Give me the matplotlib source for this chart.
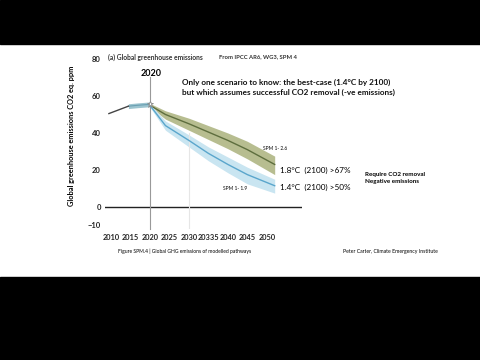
import matplotlib
matplotlib.use("Agg")
from matplotlib import pyplot as plt
from matplotlib.patches import Rectangle
import numpy as np

plt.rcParams['font.family'] = ['Lato', 'DejaVu Sans']

# historical emissions
hist_years = [2009.5, 2014.5]
hist_vals = [50.5, 54.5]
band_years = [2014.5, 2017, 2020]
band_vals = [54.5, 55.0, 55.5]

# pathways after 2020
path_years = [2020, 2024, 2030, 2035, 2040, 2045, 2052]
spm26_mid = [55, 50, 45, 40.5, 36, 31, 23]
spm26_lo = [54, 47.5, 41.5, 36.5, 31.5, 26, 17.5]
spm26_hi = [56, 52, 48, 44, 40, 35.5, 27.5]
spm19_mid = [55, 44, 36, 29, 23, 17.5, 11.5]
spm19_lo = [54, 41.5, 32.5, 25, 18.5, 12.5, 7.5]
spm19_hi = [56, 46.5, 39, 32.5, 27, 21.5, 15]

xticks = [2010, 2015, 2020, 2025, 2030, 2035, 2040, 2045, 2050]
xticklabels = ["2010", "2015", "2020", "2025", "2030", "20335", "2040", "2045", "2050"]
yticks = [80, 60, 40, 20, 0, -10]


def px(x, y):
    return x / 480, 1 - y / 360


fig = plt.figure(figsize=(4.8, 3.6), dpi=100)
fig.patch.set_facecolor("white")

# video letterbox bars
fig.add_artist(Rectangle((0, 1 - 44 / 360), 1, 44 / 360, transform=fig.transFigure,
                         color="black", zorder=0))
fig.add_artist(Rectangle((0, 0), 1, 1 - 277 / 360, transform=fig.transFigure,
                         color="black", zorder=0))

ax = fig.add_axes([105 / 480, 1 - 229.2 / 360, 197 / 480, 173.9 / 360])
ax.set_xlim(2008.5, 2059)
ax.set_ylim(-12, 82)
for s in ax.spines.values():
    s.set_visible(False)
ax.patch.set_alpha(0)

ax.axhline(0, color="#222222", lw=1.0)
ax.plot([2020, 2020], [-12, 70], color="#999999", lw=0.8, clip_on=False)
ax.plot([2030, 2030], [-12, 40], color="#e6e6e6", lw=0.8)

ax.fill_between(path_years, spm26_lo, spm26_hi, color="#b7bd90", lw=0)
ax.plot(path_years, spm26_mid, color="#5e6e3e", lw=1.0)
ax.fill_between(path_years, spm19_lo, spm19_hi, color="#c9e5f1", lw=0)
ax.plot(path_years, spm19_mid, color="#5aa6cc", lw=1.0)

ax.fill_between(band_years, np.array(band_vals) - 1.3, np.array(band_vals) + 1.3,
                color="#9cc4cf", lw=0)
ax.plot(band_years, band_vals, color="#6aa0b3", lw=0.8)
ax.plot(hist_years, hist_vals, color="#444444", lw=1.0)
ax.plot([2020], [55.5], marker="*", ms=5, mfc="white", mec="#888888", mew=0.6)

ax.set_xticks(xticks)
ax.set_xticklabels(xticklabels)
ax.set_yticks(yticks)
ax.tick_params(length=0, labelsize=5.3, pad=3)
for t in ax.get_xticklabels() + ax.get_yticklabels():
    t.set_fontweight("bold")
    t.set_color("#222222")
ax.tick_params(axis="y", labelsize=5.5)
ax.tick_params(axis="x", pad=3.5)

ax.set_ylabel("Global greenhouse emissions CO2 eq. ppm", fontsize=5.3,
              fontweight="bold")
ax.yaxis.set_label_coords(-0.152, 0.536)

fig.text(*px(108, 57), "(a) Global greenhouse emissions", fontsize=4.8,
         fontweight="bold", va="center", color="#333333")
fig.text(*px(219, 57), "From IPCC AR6, WG3, SPM 4", fontsize=4.2,
         fontweight="bold", va="center", color="#333333")
fig.text(*px(151, 73), "2020", fontsize=6.5, fontweight="bold", ha="center",
         va="center")
fig.text(*px(182, 82), "Only one scenario to know: the best-case (1.4°C by 2100)",
         fontsize=5.9, fontweight="bold", va="center", color="#111111")
fig.text(*px(182, 92), "but which assumes successful CO2 removal (-ve emissions)",
         fontsize=5.9, fontweight="bold", va="center", color="#111111")
fig.text(*px(263, 148), "SPM 1- 2.6", fontsize=3.5, va="center")
fig.text(*px(223, 188), "SPM 1- 1.9", fontsize=3.5, va="center")
fig.text(*px(280, 170), "1.8°C  (2100) >67%", fontsize=5.9, va="center")
fig.text(*px(280, 187), "1.4°C  (2100) >50%", fontsize=5.9, va="center")
fig.text(*px(365, 174), "Require CO2 removal", fontsize=4.5, fontweight="bold",
         va="center")
fig.text(*px(365, 182), "Negative emissions", fontsize=4.5, fontweight="bold",
         va="center")
fig.text(*px(118, 251), "Figure SPM.4 | Global GHG emissions of modelled pathways",
         fontsize=3.6, va="center")
fig.text(*px(343, 251), "Peter Carter, Climate Emergency Institute", fontsize=3.7,
         va="center")

fig.savefig("out.png", dpi=100)
